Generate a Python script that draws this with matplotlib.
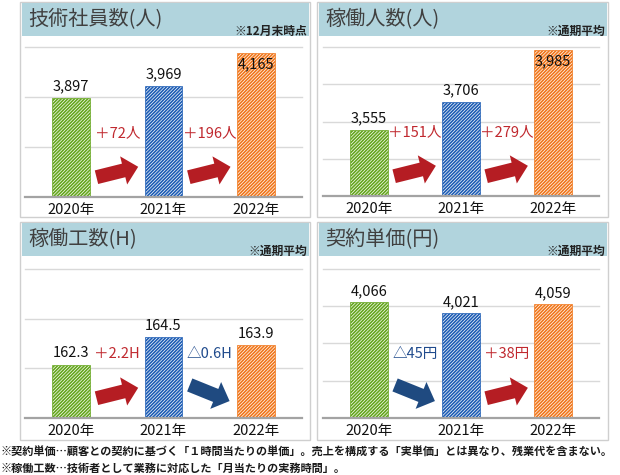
"""Four KPI panels: engineers, working staff, working hours, unit price (2020-2022)."""
import matplotlib
matplotlib.use("Agg")
import matplotlib.pyplot as plt
import matplotlib.transforms as mtrans
from matplotlib.patches import Rectangle, Polygon
import numpy as np

plt.rcParams['font.family'] = ['Noto Sans CJK JP', 'DejaVu Sans']
plt.rcParams['hatch.linewidth'] = 1.2

# ---- data ----
years = ["2020年", "2021年", "2022年"]
engineers = [3897, 3969, 4165]
working_staff = [3555, 3706, 3985]
working_hours = [162.3, 164.5, 163.9]
unit_price = [4066, 4021, 4059]

titles = ["技術社員数(人)", "稼働人数(人)", "稼働工数(H)", "契約単価(円)"]
notes = ["※12月末時点", "※通期平均", "※通期平均", "※通期平均"]
units = ["人", "人", "H", "円"]
footnotes = [
    "※契約単価…顧客との契約に基づく「１時間当たりの単価」。売上を構成する「実単価」とは異なり、残業代を含まない。",
    "※稼働工数…技術者として業務に対応した「月当たりの実務時間」。",
]

bar_colors = ["#64a51c", "#1c5cb4", "#f0761a"]
c_up, c_down = "#b51d23", "#1f4a80"
txt_up, txt_down = "#c0282e", "#1f4a8c"
band_color = "#b1d4dd"

W, H = 620, 475
fig = plt.figure(figsize=(W / 100, H / 100), dpi=100)

# background layer in pixel coords
bg = fig.add_axes([0, 0, 1, 1])
bg.set_xlim(0, W)
bg.set_ylim(H, 0)
bg.axis("off")

# panel boxes (left, top, right, bottom) and chart areas
boxes = [(20, 2, 310, 217), (317, 2, 608, 217),
         (20, 222, 310, 440), (317, 222, 608, 440)]
areas = [(25, 47, 302, 197), (323, 47, 599, 196),
         (25, 269, 302, 418), (323, 269, 599, 418)]
series = [engineers, working_staff, working_hours, unit_price]
limits = [(3300, 4200, 300), (3200, 4000, 200), (158, 170, 4), (3600, 4200, 150)]
fmts = ["{:,.0f}", "{:,.0f}", "{:.1f}", "{:,.0f}"]


def arrow_poly(L=43, w=14, hw=29, hl=15):
    return np.array([[-L / 2, -w / 2], [L / 2 - hl, -w / 2], [L / 2 - hl, -hw / 2],
                     [L / 2, 0], [L / 2 - hl, hw / 2], [L / 2 - hl, w / 2],
                     [-L / 2, w / 2]])


for k in range(4):
    l, t, r, b = boxes[k]
    bg.add_patch(Rectangle((l, t), r - l, b - t, facecolor="white",
                           edgecolor="#cfcfcf", lw=1))
    bg.add_patch(Rectangle((l + 1.5, t + 1), r - l - 3, 33, facecolor=band_color,
                           edgecolor="none"))
    bg.text(l + 8, t + 18, titles[k], fontsize=14.5, color="#404040",
            ha="left", va="center")
    bg.text(r - 3, t + 29, notes[k], fontsize=8.5, fontweight="bold",
            color="#222222", ha="right", va="center")

    al, at, ar, ab = areas[k]
    ax = fig.add_axes([al / W, 1 - ab / H, (ar - al) / W, (ab - at) / H])
    ax.set_facecolor("none")
    lo, hi, step = limits[k]
    vals = np.array(series[k], dtype=float)
    x = np.arange(len(vals))
    ax.set_xlim(-0.5, 2.5)
    ax.set_ylim(lo, hi)
    for g in np.arange(lo + step, hi + step / 2, step):
        ax.axhline(g, color="#d9d9d9", lw=1, zorder=0, clip_on=False)
    for s in ["top", "left", "right"]:
        ax.spines[s].set_visible(False)
    ax.spines["bottom"].set_color("#a3a3a3")
    ax.spines["bottom"].set_linewidth(1.6)
    ax.set_yticks([])
    ax.set_xticks(x, years)
    ax.tick_params(axis="x", length=0, pad=4, labelsize=10.5, labelcolor="#111111")

    for i, v in enumerate(vals):
        ax.bar(x[i], v - lo, bottom=lo, width=0.41, facecolor="white",
               edgecolor=bar_colors[i], lw=0.5, hatch="//////////", zorder=2)
        axh = ab - at
        gap = axh - (v - lo) / (hi - lo) * axh
        off = 8 if gap > 20 else -8
        ax.annotate(fmts[k].format(v), (x[i], v), xytext=(0, off),
                    textcoords="offset points", ha="center", va="center",
                    fontsize=10.5, color="#111111", zorder=3)

    blend = mtrans.blended_transform_factory(ax.transData, ax.transAxes)
    for i in range(len(vals) - 1):
        d = vals[i + 1] - vals[i]
        up = d >= 0
        label = ("＋" if up else "△") + fmts[k].format(abs(d)) + units[k]
        ax.text(x[i] + 0.5, 0.427, label, transform=blend,
                ha="center", va="center", fontsize=10.5,
                color=txt_up if up else txt_down)
        ang = 14 if up else -22
        tr = (mtrans.Affine2D().rotate_deg(ang).translate(0, 25)
              + mtrans.ScaledTranslation(x[i] + 0.5, 0, blend))
        ax.add_patch(Polygon(arrow_poly(), closed=True, transform=tr,
                             facecolor=c_up if up else c_down, edgecolor="none",
                             zorder=3, clip_on=False))

for j, line in enumerate(footnotes):
    bg.text(1, 452 + 16 * j, line, fontsize=8, fontweight="bold",
            color="#1a1a1a", ha="left", va="center")

fig.savefig("out.png", dpi=100)
